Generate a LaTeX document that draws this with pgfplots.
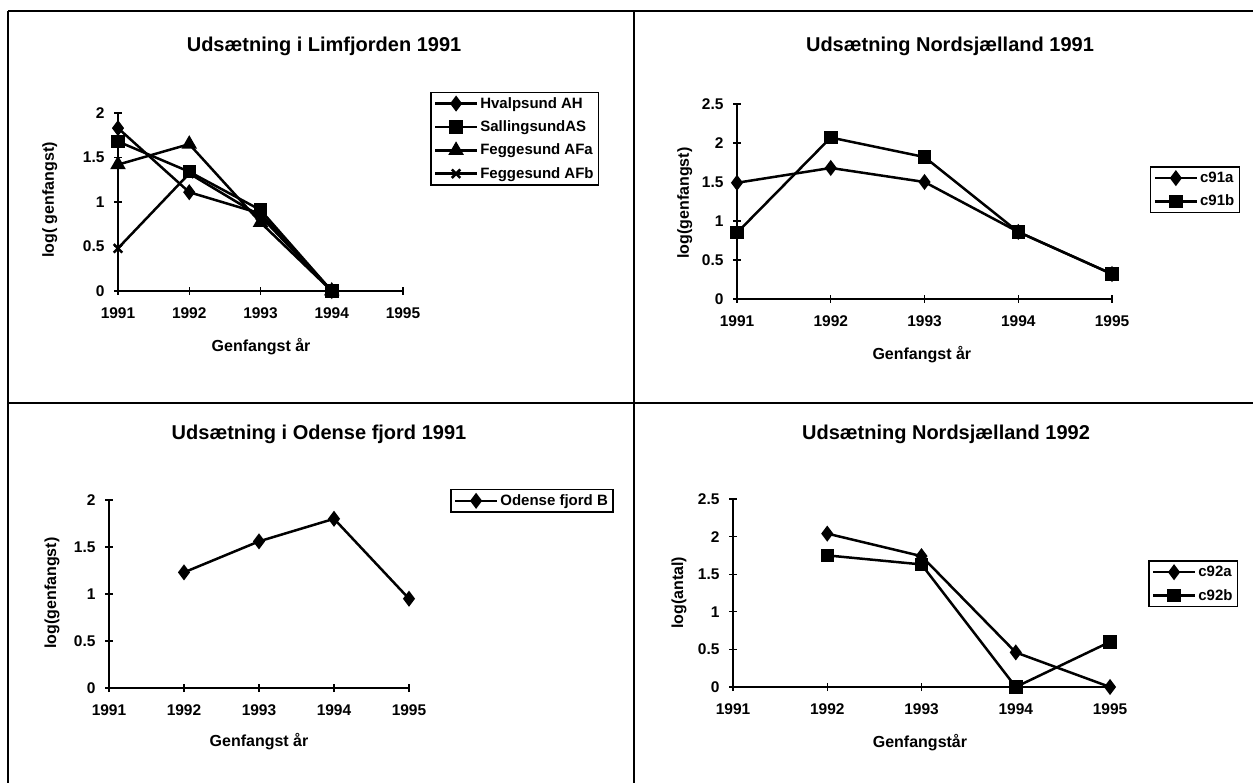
\documentclass[border=0pt]{standalone}
\usepackage{fontspec}
\setmainfont{Liberation Sans}
\usepackage{pgfplots}
\pgfplotsset{compat=1.18}

% one pt per pixel of the 1253x783 scan
\pgfplotsset{
  legend image code/.code={%
    \draw[mark repeat=2,mark phase=2,#1]
      plot coordinates {(0pt,0pt) (21pt,0pt) (42pt,0pt)};},
}
\pgfplotsset{
  panel/.style={
    scale only axis,
    anchor=south west,
    clip=false,
    axis x line*=bottom,
    axis y line*=left,
    axis line style={line width=1.8pt},
    xmin=1991, xmax=1995, ymin=0,
    xtick={1991,1992,1993,1994,1995},
    ytick distance=0.5,
    tick align=center,
    major tick length=8pt,
    tick style={line width=1.3pt, black},
    tick label style={font=\fontsize{15.5}{18}\selectfont\bfseries,
      /pgf/number format/assume math mode=true},
    xticklabel style={/pgf/number format/1000 sep={}, yshift=-9pt},
    yticklabel style={xshift=-6pt},
    label style={font=\fontsize{16}{19}\selectfont\bfseries},
    title style={font=\fontsize{20}{24}\selectfont\bfseries,
      anchor=center, yshift=0pt},
    xlabel style={anchor=center},
    ylabel style={anchor=center},
    legend style={draw=black, line width=1.5pt, anchor=north west,
      font=\fontsize{15}{18}\selectfont\bfseries,
      inner sep=3pt, row sep=7pt},
    legend cell align=left,
    every axis plot/.append style={black, line width=2.5pt},
  },
  dia/.style={mark=diamond*, mark size=6pt},
  sq/.style={mark=square*, mark size=5.5pt},
  tri/.style={mark=triangle*, mark size=6.5pt},
  crs/.style={mark=x, mark size=6pt},
}

\begin{document}
\begin{tikzpicture}
\useasboundingbox (0pt,0pt) rectangle (1253pt,-783pt);

% frame of the four panels
\draw[line width=1.8pt] (8pt,-11pt) -- (1253pt,-11pt);
\draw[line width=1.8pt] (8pt,-403pt) -- (1253pt,-403pt);
\draw[line width=1.8pt] (8pt,-11pt) -- (8pt,-783pt);
\draw[line width=1.8pt] (634pt,-11pt) -- (634pt,-783pt);

% top left
\begin{axis}[panel,
  at={(118pt,-291pt)}, width=285pt, height=178pt,
  ymax=2,
  title={Udsætning i Limfjorden 1991},
  title style={at={(axis description cs:0.723,1.343)}},
  xlabel={Genfangst år},
  xlabel style={at={(axis description cs:0.502,-0.315)}},
  ylabel={log( genfangst)},
  ylabel style={at={(axis description cs:-0.239,0.511)}},
  legend style={at={(axis description cs:1.095,1.12)}},
]
\addplot[dia] coordinates {(1991,1.83) (1992,1.11) (1993,0.87) (1994,0)};
\addplot[sq]  coordinates {(1991,1.68) (1992,1.34) (1993,0.91) (1994,0)};
\addplot[tri] coordinates {(1991,1.42) (1992,1.65) (1993,0.77) (1994,0)};
\addplot[crs] coordinates {(1991,0.48) (1992,1.32) (1993,0.84) (1994,0)};
\legend{Hvalpsund AH, SallingsundAS, Feggesund AFa, Feggesund AFb}
\end{axis}

% top right
\begin{axis}[panel,
  at={(737pt,-299pt)}, width=375pt, height=195pt,
  ymax=2.5,
  title={Udsætning Nordsjælland 1991},
  title style={at={(axis description cs:0.568,1.267)}},
  xlabel={Genfangst år},
  xlabel style={at={(axis description cs:0.493,-0.287)}},
  ylabel={log(genfangst)},
  ylabel style={at={(axis description cs:-0.139,0.492)}},
  legend style={at={(axis description cs:1.101,0.68)}},
]
\addplot[dia] coordinates {(1991,1.49) (1992,1.68) (1993,1.50) (1994,0.86) (1995,0.32)};
\addplot[sq]  coordinates {(1991,0.85) (1992,2.07) (1993,1.82) (1994,0.86) (1995,0.32)};
\legend{c91a, c91b}
\end{axis}

% bottom left
\begin{axis}[panel,
  at={(109pt,-688pt)}, width=300pt, height=188pt,
  ymax=2,
  title={Udsætning i Odense fjord 1991},
  title style={at={(axis description cs:0.70,1.319)}},
  xlabel={Genfangst år},
  xlabel style={at={(axis description cs:0.5,-0.287)}},
  ylabel={log(genfangst)},
  ylabel style={at={(axis description cs:-0.19,0.505)}},
  legend style={at={(axis description cs:1.137,1.059)}},
]
\addplot[dia] coordinates {(1992,1.23) (1993,1.56) (1994,1.80) (1995,0.95)};
\legend{Odense fjord B}
\end{axis}

% bottom right
\begin{axis}[panel,
  at={(733pt,-687pt)}, width=377pt, height=188pt,
  ymax=2.5,
  title={Udsætning Nordsjælland 1992},
  title style={at={(axis description cs:0.565,1.314)}},
  xlabel={Genfangstår},
  xlabel style={at={(axis description cs:0.496,-0.298)}},
  ylabel={log(antal)},
  ylabel style={at={(axis description cs:-0.143,0.5)}},
  legend style={at={(axis description cs:1.101,0.673)}},
]
\addplot[dia] coordinates {(1992,2.04) (1993,1.74) (1994,0.46) (1995,0)};
\addplot[sq]  coordinates {(1992,1.75) (1993,1.63) (1994,0) (1995,0.60)};
\legend{c92a, c92b}
\end{axis}
\end{tikzpicture}
\end{document}
